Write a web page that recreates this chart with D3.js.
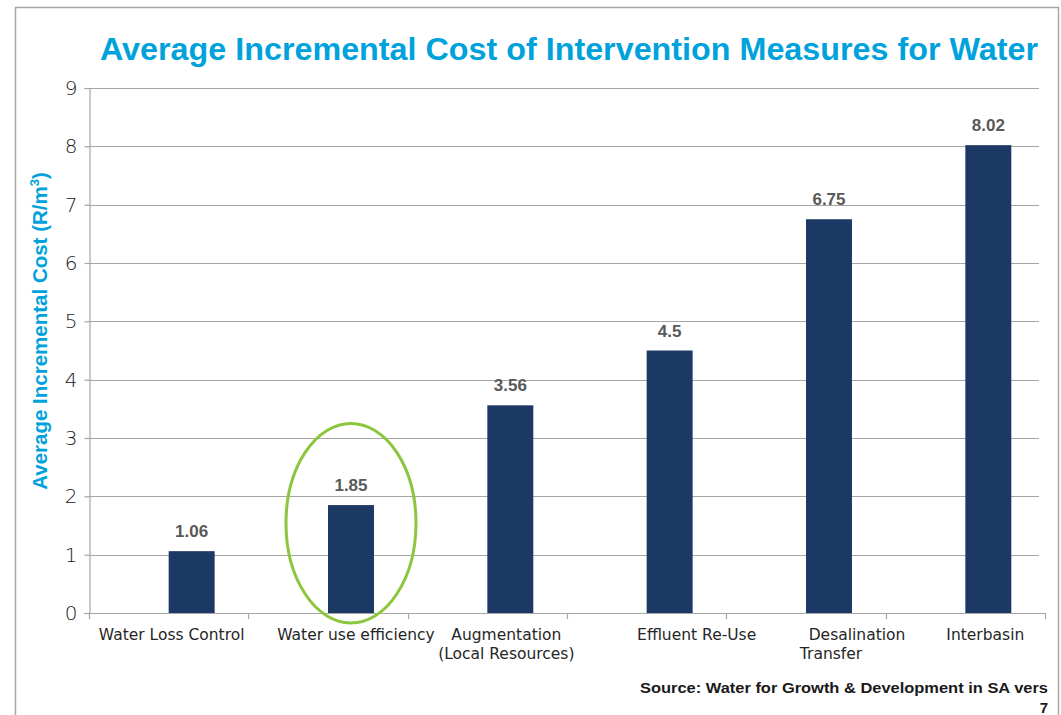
<!DOCTYPE html>
<html>
<head>
<meta charset="utf-8">
<script src="https://cdn.jsdelivr.net/npm/d3@7"></script>
<style>
  body { margin: 0; background: #fff; }
  svg { display: block; }
</style>
</head>
<body>
<svg id="chart" width="1061" height="715"></svg>
<script>
// chart data
const categories = ["Water Loss Control", "Water use efficiency", "Augmentation", "Effluent Re-Use", "Desalination", "Interbasin"];
const labelLines = [
  ["Water Loss Control"],
  ["Water use efficiency"],
  ["Augmentation", "(Local Resources)"],
  ["Effluent Re-Use"],
  ["Desalination", "Transfer"],
  ["Interbasin"]
];
const costs = [1.06, 1.85, 3.56, 4.5, 6.75, 8.02];
const valueLabels = ["1.06", "1.85", "3.56", "4.5", "6.75", "8.02"];
const yTicks = [0, 1, 2, 3, 4, 5, 6, 7, 8, 9];
const highlighted = "Water use efficiency";
const highlightRange = [-0.17, 3.25];

// label nudges (px) from band centre, per line
const labelShift = [[3], [28], [19, 19], [50], [51, 25], [20]];

const plotL = 89, plotR = 1045, plotT = 88, plotB = 613;
const svg = d3.select("#chart");

const x = d3.scaleBand().domain(categories).range([plotL, plotR]).padding(0);
// two slots per category, the first one left empty (like the original)
const xSub = d3.scaleBand().domain(["empty", "cost"]).range([0, x.bandwidth()]).paddingOuter(0.733);
const y = d3.scaleLinear().domain([0, 9]).range([plotB, plotT]);

// outer frame
svg.append("path")
  .attr("d", "M15.5,715 V7.5 H1058.5 V715")
  .attr("fill", "none").attr("stroke", "#a6a6a6").attr("stroke-width", 1.5);

// title
svg.append("text")
  .attr("x", 100).attr("y", 60)
  .attr("textLength", 938).attr("lengthAdjust", "spacingAndGlyphs")
  .style("font-family", "'Liberation Sans', Arial, sans-serif")
  .style("font-weight", "bold").style("font-size", "32px")
  .style("fill", "#00a2dc")
  .text("Average Incremental Cost of Intervention Measures for Water");

// gridlines
svg.append("g").selectAll("line")
  .data(yTicks.filter(d => d > 0))
  .enter().append("line")
  .attr("x1", plotL).attr("x2", 1039)
  .attr("y1", d => Math.round(y(d)) + 0.5).attr("y2", d => Math.round(y(d)) + 0.5)
  .attr("stroke", "#a6a6a6").attr("stroke-width", 1.2);

// y axis
const yAxis = d3.axisLeft(y).tickValues(yTicks).tickSize(5).tickPadding(7).tickFormat(d3.format("d"));
const gy = svg.append("g").attr("transform", `translate(${plotL + 0.5},0)`).call(yAxis);
gy.select(".domain").attr("stroke", "#a6a6a6").attr("stroke-width", 1.2);
gy.selectAll(".tick line").attr("stroke", "#a6a6a6").attr("stroke-width", 1.2);
gy.selectAll(".tick text")
  .style("font-family", "'DejaVu Sans', sans-serif").style("font-weight", "300")
  .style("font-size", "20px").style("fill", "#1a1a1a");

// x axis line with boundary ticks
const gx = svg.append("g");
gx.append("line")
  .attr("x1", plotL - 5).attr("x2", plotR)
  .attr("y1", plotB + 0.5).attr("y2", plotB + 0.5)
  .attr("stroke", "#a6a6a6").attr("stroke-width", 1.2);
gx.selectAll("line.bt")
  .data(categories.map(c => x(c)).concat([plotR]))
  .enter().append("line").attr("class", "bt")
  .attr("x1", d => Math.round(d) + 0.5).attr("x2", d => Math.round(d) + 0.5)
  .attr("y1", plotB).attr("y2", plotB + 6)
  .attr("stroke", "#a6a6a6").attr("stroke-width", 1.2);

// bars
const barX = c => x(c) + xSub("cost");
svg.append("g").selectAll("rect")
  .data(categories)
  .enter().append("rect")
  .attr("x", d => barX(d))
  .attr("y", (d, i) => y(costs[i]))
  .attr("width", xSub.bandwidth())
  .attr("height", (d, i) => y(0) - y(costs[i]))
  .attr("fill", "#1c3864");

// value labels
svg.append("g").selectAll("text")
  .data(categories)
  .enter().append("text")
  .attr("x", d => barX(d) + xSub.bandwidth() / 2)
  .attr("y", (d, i) => y(costs[i]) - 14)
  .attr("text-anchor", "middle")
  .style("font-family", "'Liberation Sans', Arial, sans-serif")
  .style("font-weight", "bold").style("font-size", "17px")
  .style("fill", "#595959")
  .text((d, i) => valueLabels[i]);

// category labels
const gl = svg.append("g");
categories.forEach((c, i) => {
  labelLines[i].forEach((line, j) => {
    gl.append("text")
      .attr("x", x(c) + x.bandwidth() / 2 + labelShift[i][j])
      .attr("y", 640 + j * 19)
      .attr("text-anchor", "middle")
      .style("font-family", "'DejaVu Sans', sans-serif")
      .style("font-size", "15.5px").style("fill", "#262626")
      .text(line);
  });
});

// highlight ellipse
const hx = barX(highlighted) + xSub.bandwidth() / 2;
svg.append("ellipse")
  .attr("cx", hx)
  .attr("cy", (y(highlightRange[0]) + y(highlightRange[1])) / 2)
  .attr("rx", 65)
  .attr("ry", (y(highlightRange[0]) - y(highlightRange[1])) / 2)
  .attr("fill", "none").attr("stroke", "#8cc63e").attr("stroke-width", 3);

// y axis title
const yt = svg.append("text")
  .attr("transform", "translate(47,331) rotate(-90)")
  .attr("text-anchor", "middle")
  .style("font-family", "'Liberation Sans', Arial, sans-serif")
  .style("font-weight", "bold").style("font-size", "20.5px")
  .style("fill", "#00a2dc");
yt.append("tspan").text("Average Incremental Cost (R/m");
yt.append("tspan").attr("dy", -8).style("font-size", "13px").text("3");
yt.append("tspan").attr("dy", 8).text(")");

// source
const src = svg.append("g")
  .style("font-family", "'Liberation Sans', Arial, sans-serif")
  .style("font-weight", "bold").style("font-size", "15px").style("fill", "#1a1a1a");
src.append("text").attr("x", 1048).attr("y", 693).attr("text-anchor", "end")
  .attr("textLength", 408).attr("lengthAdjust", "spacingAndGlyphs")
  .text("Source: Water for Growth & Development in SA vers");
src.append("text").attr("x", 1048).attr("y", 713).attr("text-anchor", "end").text("7");
</script>
</body>
</html>
